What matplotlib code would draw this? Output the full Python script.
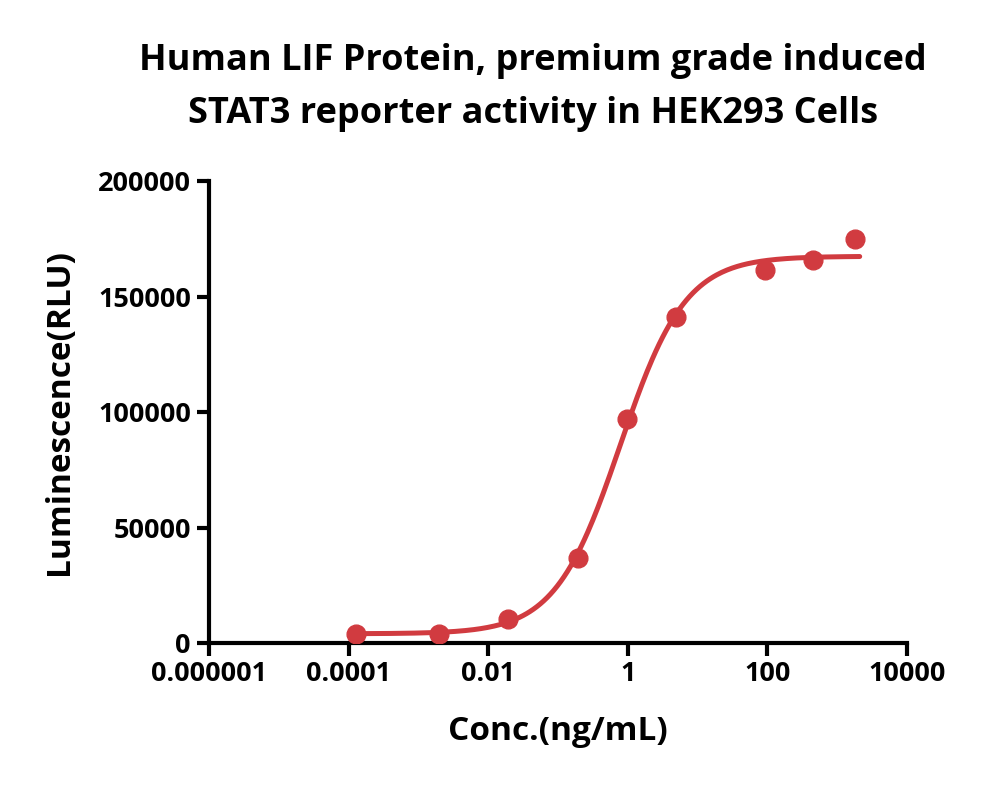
import numpy as np
import matplotlib
matplotlib.use("Agg")
import matplotlib.pyplot as plt
from matplotlib.ticker import FixedLocator, FixedFormatter, NullLocator

# measured points
conc = [1.28e-4, 1.97e-3, 0.0192, 0.194, 0.975, 4.9, 92, 450, 1800]
rlu = [3900, 3900, 10400, 36900, 97200, 141400, 161400, 165700, 174800]

# 4PL fit parameters
fit_bottom = 4000
fit_top = 167500
fit_ec50 = 0.78
fit_hill = 0.93
fit_range = (1.1e-4, 2100)

x_ticks = [1e-6, 1e-4, 1e-2, 1, 100, 10000]
x_labels = ["0.000001", "0.0001", "0.01", "1", "100", "10000"]
y_ticks = [0, 50000, 100000, 150000, 200000]

red = "#d13b40"
plt.rcParams['font.family'] = ['Open Sans', 'DejaVu Sans']

fig = plt.figure(figsize=(10, 7.88), dpi=100)
ax = fig.add_axes([0.209, 0.184, 0.698, 0.586])

xs = np.logspace(np.log10(fit_range[0]), np.log10(fit_range[1]), 300)
ys = fit_bottom + (fit_top - fit_bottom) / (1 + (fit_ec50 / xs) ** fit_hill)
ax.plot(xs, ys, color=red, lw=3.6, solid_capstyle='round', zorder=2)
ax.plot(conc, rlu, 'o', color=red, ms=13.5, zorder=3)

ax.set_xscale('log')
ax.set_xlim(1e-6, 1e4)
ax.set_ylim(0, 200000)
ax.xaxis.set_major_locator(FixedLocator(x_ticks))
ax.xaxis.set_major_formatter(FixedFormatter(x_labels))
ax.xaxis.set_minor_locator(NullLocator())
ax.set_yticks(y_ticks)
ax.set_yticklabels([str(v) for v in y_ticks])

for s in ['top', 'right']:
    ax.spines[s].set_visible(False)
for s in ['left', 'bottom']:
    ax.spines[s].set_linewidth(3)
ax.tick_params(width=3, length=9, labelsize=19.5, direction='out', pad=4)
for lab in ax.get_xticklabels() + ax.get_yticklabels():
    lab.set_fontweight('bold')

ax.set_xlabel("Conc.(ng/mL)", fontsize=24, fontweight='bold', labelpad=20)
ax.set_ylabel("Luminescence(RLU)", fontsize=24, fontweight='bold', labelpad=16)
fig.suptitle("Human LIF Protein, premium grade induced\nSTAT3 reporter activity in HEK293 Cells",
             fontsize=26, fontweight='bold', x=0.533, y=0.945, linespacing=1.6)

fig.savefig("out.png", dpi=100)
